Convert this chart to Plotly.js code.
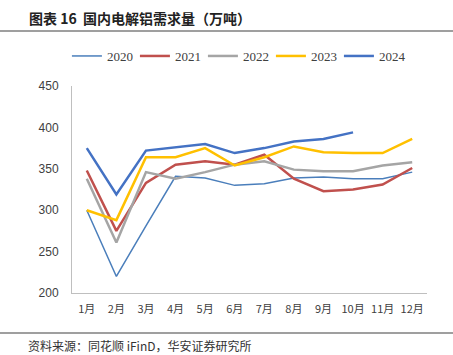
<!DOCTYPE html>
<html><head><meta charset="utf-8">
<script src="https://cdn.plot.ly/plotly-3.0.1.min.js"></script>
<style>html,body{margin:0;padding:0;background:#fff}#c{width:453px;height:355px}</style>
</head><body><div id="c"></div>
<script>
const months = ['1月','2月','3月','4月','5月','6月','7月','8月','9月','10月','11月','12月'];
const years = ['2020','2021','2022','2023','2024'];
const v2020 = [300, 220, 281, 341, 339, 330, 332, 339, 340, 338, 338, 346];
const v2021 = [348, 275, 333, 355, 359, 355, 367, 338, 323, 325, 331, 351];
const v2022 = [338, 261, 346, 338, 346, 355, 359, 349, 347, 347, 354, 358];
const v2023 = [300, 288, 364, 364, 375, 354, 364, 377, 370, 369, 369, 386];
const v2024 = [375, 319, 372, 376, 380, 369, 375, 383, 386, 394];
const colors = ['#4a7ebb', '#c0504d', '#a5a5a5', '#ffc000', '#4472c4'];
const widths = [1.5, 2.5, 2.5, 2.5, 2.5];
const series = [v2020, v2021, v2022, v2023, v2024];

const traces = series.map((vals, i) => ({
  type: 'scatter', mode: 'lines', name: years[i],
  x: months.slice(0, vals.length), y: vals,
  line: {color: colors[i], width: widths[i]}
}));

const PL = 72, PR = 26, PT = 86, PB = 62, W = 453, H = 355;
const pw = W - PL - PR, ph = H - PT - PB;
const px = x => (x - PL) / pw;
const py = y => (H - PB - y) / ph;

const layout = {
  width: W, height: H,
  margin: {l: PL, r: PR, t: PT, b: PB},
  paper_bgcolor: '#fff', plot_bgcolor: '#fff',
  showlegend: true,
  legend: {orientation: 'h', xref: 'container', yref: 'container', x: 0.523, xanchor: 'center', y: 1 - 56 / H, yanchor: 'middle',
    font: {family: 'Liberation Serif', size: 13, color: '#404040'}, entrywidth: 23, entrywidthmode: 'pixels'},
  xaxis: {type: 'category', range: [-0.5, 11.5], showgrid: false, zeroline: false, showline: true, linecolor: '#bfbfbf', linewidth: 1,
    ticks: 'outside', ticklen: 6, tickcolor: 'rgba(0,0,0,0)',
    tickfont: {family: 'Noto Sans CJK SC', size: 11, color: '#404040'}, fixedrange: true},
  yaxis: {range: [200, 450], dtick: 50, showgrid: false, zeroline: false, showline: true, linecolor: '#bfbfbf', linewidth: 1,
    ticks: 'outside', ticklen: 10, tickcolor: 'rgba(0,0,0,0)',
    tickfont: {family: 'Liberation Sans', size: 12, color: '#404040'}, fixedrange: true},
  shapes: [
    {type: 'line', xref: 'paper', yref: 'paper', x0: px(0), x1: px(W), y0: py(31), y1: py(31), line: {color: '#404040', width: 1.2}},
    {type: 'line', xref: 'paper', yref: 'paper', x0: px(0), x1: px(W), y0: py(333), y1: py(333), line: {color: '#404040', width: 1.2}}
  ],
  annotations: [
    {xref: 'paper', yref: 'paper', x: px(27), y: py(18), xanchor: 'left', yanchor: 'middle', showarrow: false,
      text: '<b>图表 16  国内电解铝需求量（万吨）</b>', font: {family: 'Noto Sans CJK SC', size: 14, color: '#222'}},
    {xref: 'paper', yref: 'paper', x: px(26), y: py(345), xanchor: 'left', yanchor: 'middle', showarrow: false,
      text: '资料来源：同花顺 iFinD，华安证券研究所', font: {family: 'Noto Sans CJK SC', size: 12, color: '#333'}}
  ]
};
Plotly.newPlot('c', traces, layout, {displayModeBar: false, staticPlot: true});
</script>
</body></html>
